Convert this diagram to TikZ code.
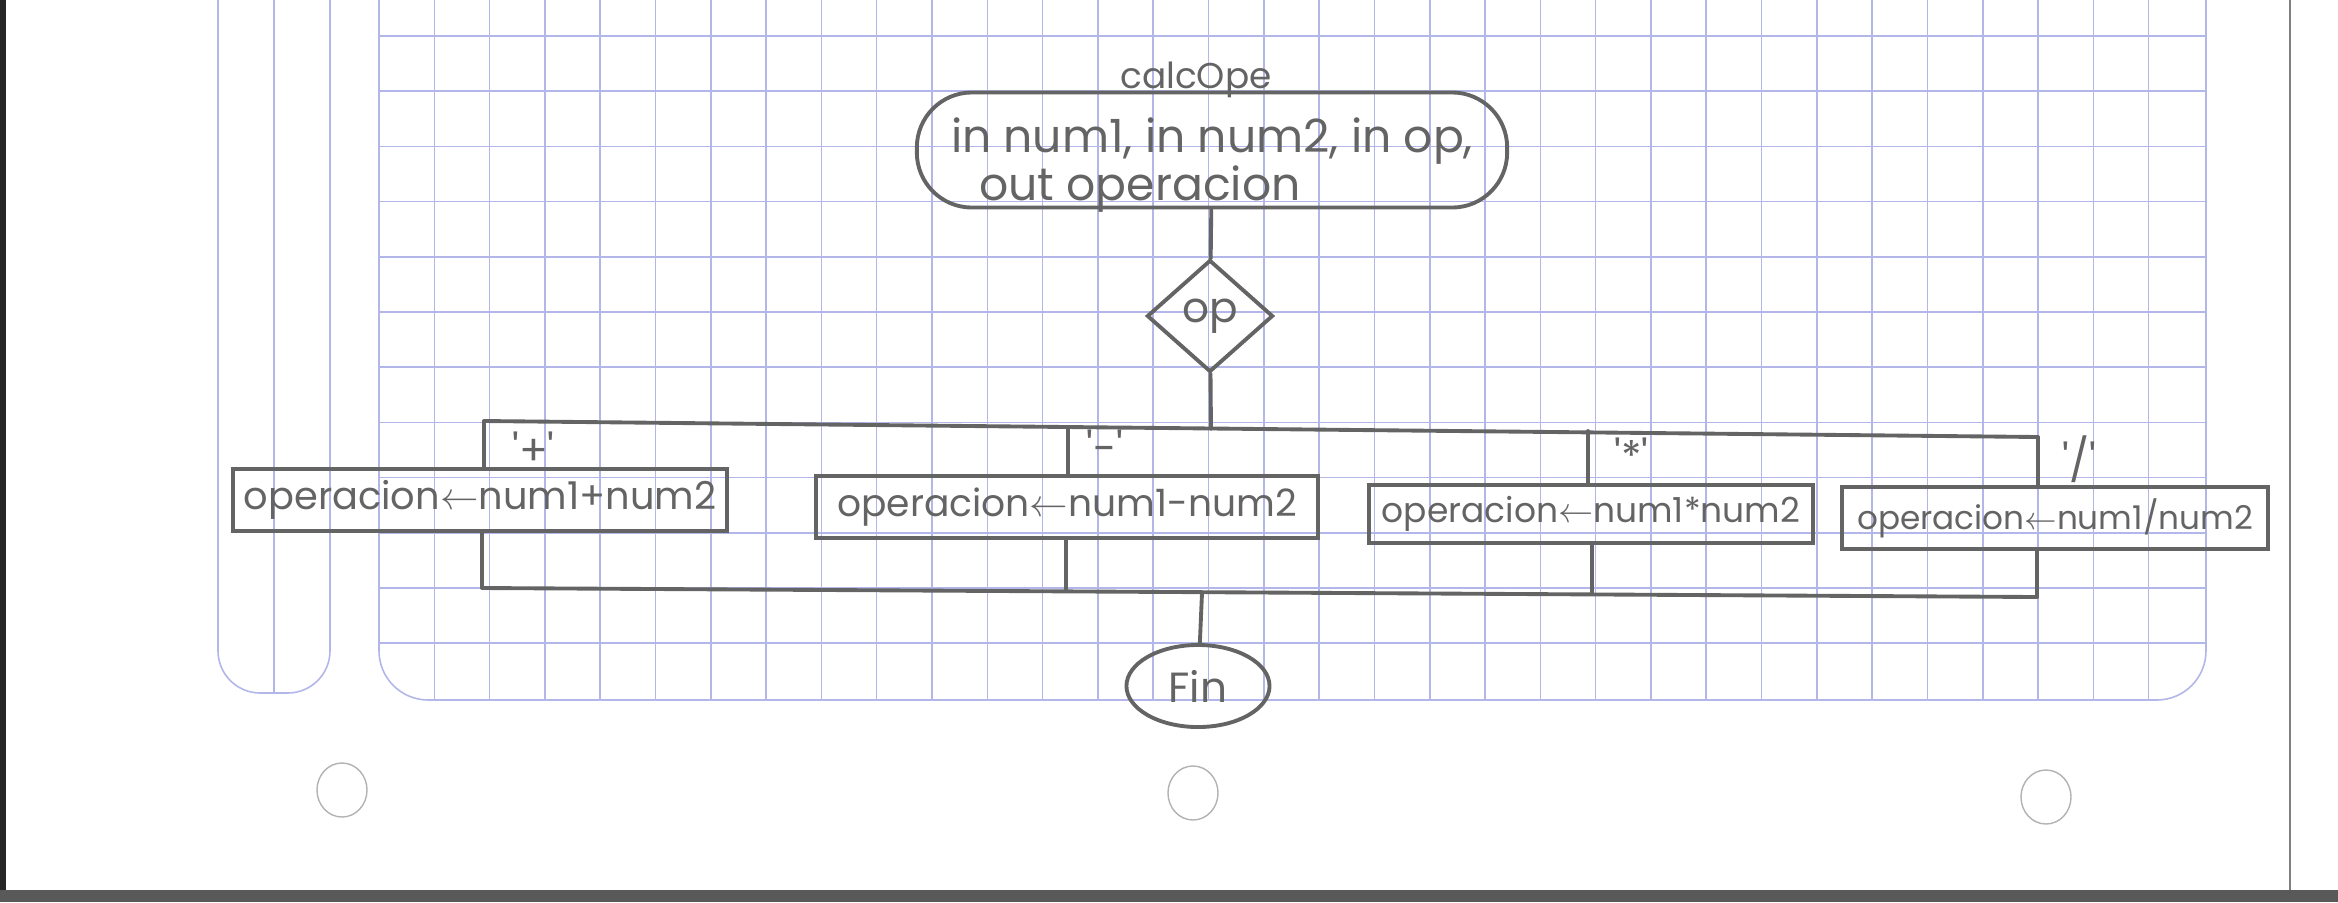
\documentclass[tikz,border=0pt]{standalone}
\usepackage{fontspec}
\setmainfont{Poppins}
\usetikzlibrary{shapes.geometric}
\definecolor{pencil}{RGB}{100,100,100}
\definecolor{gridblue}{RGB}{178,182,232}
\def\asgbox#1#2{\node[draw=pencil,line width=1.1pt,inner xsep=3pt,minimum height=0.57cm,minimum width=#1,font=\fontsize{#2}{#2}\selectfont]}
\newcommand{\qt}[1]{\textquotesingle#1\textquotesingle}

\begin{document}
\begin{tikzpicture}[x=0.01cm,y=-0.01cm,
  hand/.style={draw=pencil,line width=1.1pt,line cap=round},
  gridline/.style={draw=gridblue,line width=0.45pt},
  every node/.style={text=pencil,font=\fontsize{12}{14}\selectfont}]
\useasboundingbox (0,0) rectangle (2338,902);
% paper
\fill[gray!70!black] (0,890) rectangle (2338,902);
\fill[black!85] (0,0) rectangle (6,890);
\draw[gray,line width=0.5pt] (2290,0) -- (2290,890);
% margin strip
\draw[gridline,rounded corners=12] (218,0) -- (218,693) -- (330,693) -- (330,0);
\draw[gridline] (274,0) -- (274,693);
% squared area
\draw[gridline,rounded corners=14] (379,0) -- (379,700) -- (2206,700) -- (2206,0);
\foreach \i in {1,...,32} \draw[gridline] (379+55.3*\i,0) -- (379+55.3*\i,700);
\foreach \j in {0,...,11} \draw[gridline] (379,36+55.2*\j) -- (2206,36+55.2*\j);
% punch holes
\foreach \hx/\hy in {342/790,1193/793,2046/797}
  \draw[gray!60,line width=0.4pt] (\hx,\hy) ellipse [x radius=0.25cm, y radius=0.27cm];

% flowchart
\node[font=\fontsize{10.2}{12}\selectfont] (title) at (1196,80) {calcOpe};
\node[hand,rectangle,rounded corners=0.55cm,minimum width=5.9cm,minimum height=1.15cm] (inicio) at (1212,150) {};
\node[align=center,font=\fontsize{13}{13.5}\selectfont] (param) at (1212,165) {in num1, in num2, in op,\\out operacion\hspace*{1.44cm}};
\node[hand,diamond,minimum width=1.26cm,minimum height=1.12cm,inner sep=0pt] (op) at (1210,316) {op};

\coordinate (jop) at (1211,429);
\coordinate (bsum) at (484,421);
\coordinate (bres) at (1068,427);
\coordinate (bmul) at (1588,431);
\coordinate (bdiv) at (2038,437);

\asgbox{4.93cm}{10.9} (sum) at (480,500) {operacion$\leftarrow$num1+num2};
\asgbox{5.02cm}{10.7} (res) at (1067,507) {operacion$\leftarrow$num1-num2};
\asgbox{4.43cm}{9.8} (mul) at (1591,514) {operacion$\leftarrow$num1*num2};
\asgbox{4.25cm}{9.3} (div) at (2055,518) {operacion$\leftarrow$num1/num2};

\node[anchor=west] (lsum) at (500,449) {\qt{+}};
\node[anchor=west] (lres) at (1074,447) {\qt{-}};
\node[anchor=west] (lmul) at (1602,455) {\qt{*}};
\node[anchor=west] (ldiv) at (2050,459) {\qt{/}};

\coordinate (csum) at (482,588);
\coordinate (cres) at (1066,591);
\coordinate (cmul) at (1592,594);
\coordinate (cdiv) at (2037,597);
\coordinate (jfin) at (1202,593);

\node[hand,ellipse,minimum width=1.43cm,minimum height=0.82cm,inner sep=0pt] (fin) at (1198,686) {Fin};

\draw[hand] (inicio) -- (op);
\draw[hand] (op) -- (jop);
\draw[hand] (bsum) -- (bdiv);
\draw[hand] (bsum) -- (bsum |- sum.north);
\draw[hand] (bres) -- (bres |- res.north);
\draw[hand] (bmul) -- (bmul |- mul.north);
\draw[hand] (bdiv) -- (bdiv |- div.north);
\draw[hand] (sum.south -| csum) -- (csum);
\draw[hand] (res.south -| cres) -- (cres);
\draw[hand] (mul.south -| cmul) -- (cmul);
\draw[hand] (div.south -| cdiv) -- (cdiv);
\draw[hand] (csum) -- (cdiv);
\draw[hand] (jfin) -- (fin);
\end{tikzpicture}
\end{document}
